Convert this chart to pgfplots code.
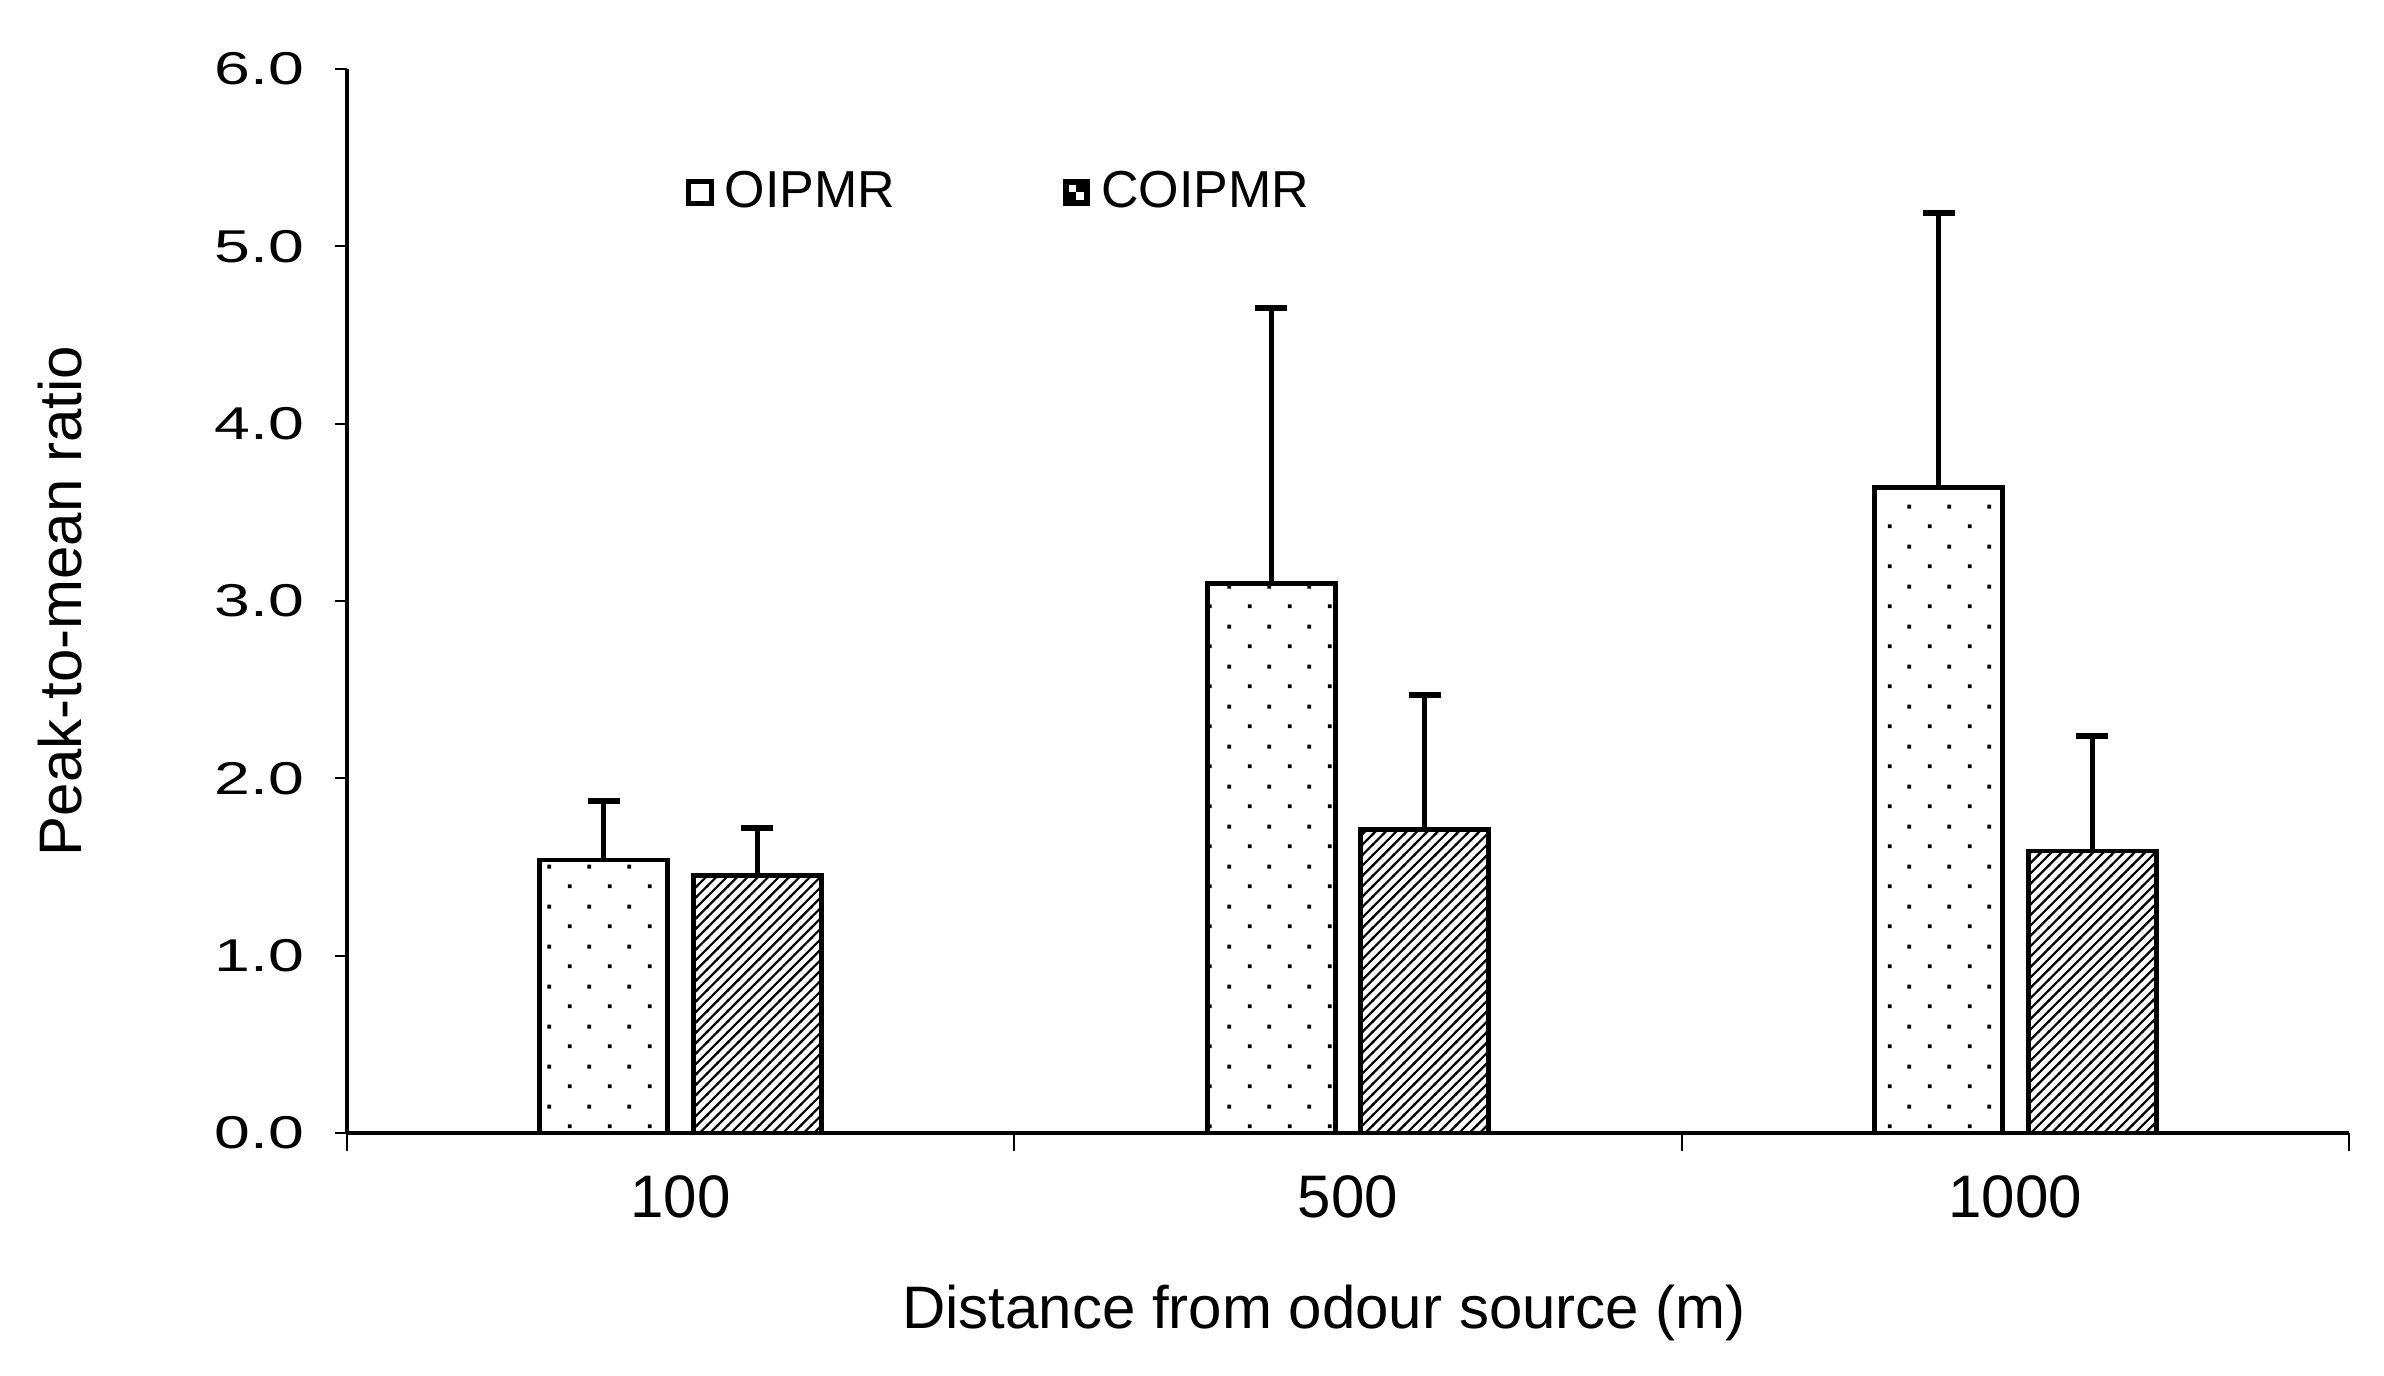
\documentclass[border=0pt]{standalone}
\usepackage{fontspec}
\setmainfont{Liberation Sans}
\usepackage{pgfplots}
\pgfplotsset{compat=1.18}
\usepackage{pgfplotstable}
\usetikzlibrary{patterns}

\pgfdeclarepatternformonly{sdots}{\pgfqpoint{0pt}{0pt}}{\pgfqpoint{10pt}{10pt}}{\pgfqpoint{10pt}{10pt}}{%
  \pgfpathrectangle{\pgfqpoint{2pt}{2pt}}{\pgfqpoint{1pt}{1pt}}%
  \pgfpathrectangle{\pgfqpoint{7pt}{7pt}}{\pgfqpoint{1pt}{1pt}}%
  \pgfusepath{fill}%
}
\pgfdeclarepatternformonly{hatch}{\pgfqpoint{-1pt}{-1pt}}{\pgfqpoint{3pt}{3pt}}{\pgfqpoint{2.6pt}{2.6pt}}{%
  \pgfsetlinewidth{0.55pt}%
  \pgfpathmoveto{\pgfqpoint{-0.2pt}{-0.2pt}}%
  \pgfpathlineto{\pgfqpoint{2.8pt}{2.8pt}}%
  \pgfusepath{stroke}%
}

\pgfplotstableread{
x   oi    oierr  co    coerr
0   1.54  0.33   1.45  0.27
1   3.10  1.55   1.71  0.76
2   3.64  1.55   1.59  0.65
}\data

\begin{document}
\begin{tikzpicture}
\begin{axis}[
  name=ax,
  scale only axis,
  width=500.5pt, height=266pt,
  xmin=-0.5, xmax=2.5, ymin=0, ymax=6,
  axis lines*=left,
  axis line style={line width=0.8pt},
  ybar,
  xtick={0,1,2},
  xticklabels={100,500,1000},
  minor xtick={-0.5,0.5,1.5,2.5},
  major x tick style={draw=none},
  minor x tick style={line width=0.5pt, draw=black},
  minor tick length=4.5pt,
  xticklabel style={font=\fontsize{15}{16}\selectfont, yshift=-4pt},
  ytick={0,1,2,3,4,5,6},
  tick align=outside,
  major tick length=3pt,
  tick style={line width=0.5pt, black},
  yticklabel style={font=\fontsize{11.5}{12}\selectfont, xscale=1.4, xshift=-2pt},
  /pgf/number format/.cd, fixed, fixed zerofill, precision=1, assume math mode=true,
  /pgfplots/.cd,
  xlabel={Distance from odour source (m)},
  xlabel style={font=\fontsize{15}{16}\selectfont, yshift=-10pt, xshift=-6pt},
  ylabel={Peak-to-mean ratio},
  ylabel style={font=\fontsize{15}{16}\selectfont, yshift=25pt},
  legend columns=2,
  legend style={draw=none, fill=none, at={(0.169,0.884)}, anchor=west,
    font=\fontsize{13}{14}\selectfont,
    /tikz/every even column/.append style={column sep=39pt},
    nodes={inner xsep=2.8pt},
    inner sep=0pt},
]
\addplot[forget plot, draw=black, line width=1.2pt, pattern=sdots, bar width=32pt, bar shift=-19.2pt,
  error bars/.cd, y dir=plus, y explicit,
  error bar style={line width=1.3pt, black},
  error mark options={rotate=90, line width=1.5pt, mark size=4pt, black}]
  table[x=x, y=oi, y error=oierr] {\data};
\addplot[forget plot, draw=black, line width=1.2pt, pattern=hatch, bar width=32pt, bar shift=19.2pt,
  error bars/.cd, y dir=plus, y explicit,
  error bar style={line width=1.3pt, black},
  error mark options={rotate=90, line width=1.5pt, mark size=4pt, black}]
  table[x=x, y=co, y error=coerr] {\data};
\addlegendimage{legend image code/.code={\draw[black, line width=1.3pt, fill=white] (0pt,-2.8pt) rectangle (5.6pt,2.8pt);}}
\addlegendentry{OIPMR}
\addlegendimage{legend image code/.code={\draw[black, line width=1.3pt, fill=black] (0pt,-2.8pt) rectangle (5.6pt,2.8pt); \fill[white] (1.2pt,0.2pt) rectangle (2.6pt,1.6pt); \fill[white] (3pt,-1.6pt) rectangle (4.4pt,-0.2pt);}}
\addlegendentry{COIPMR}
\end{axis}
\path ([xshift=-86.75pt, yshift=-60.5pt]ax.south west) rectangle ++(596pt,343.75pt);
\end{tikzpicture}
\end{document}
